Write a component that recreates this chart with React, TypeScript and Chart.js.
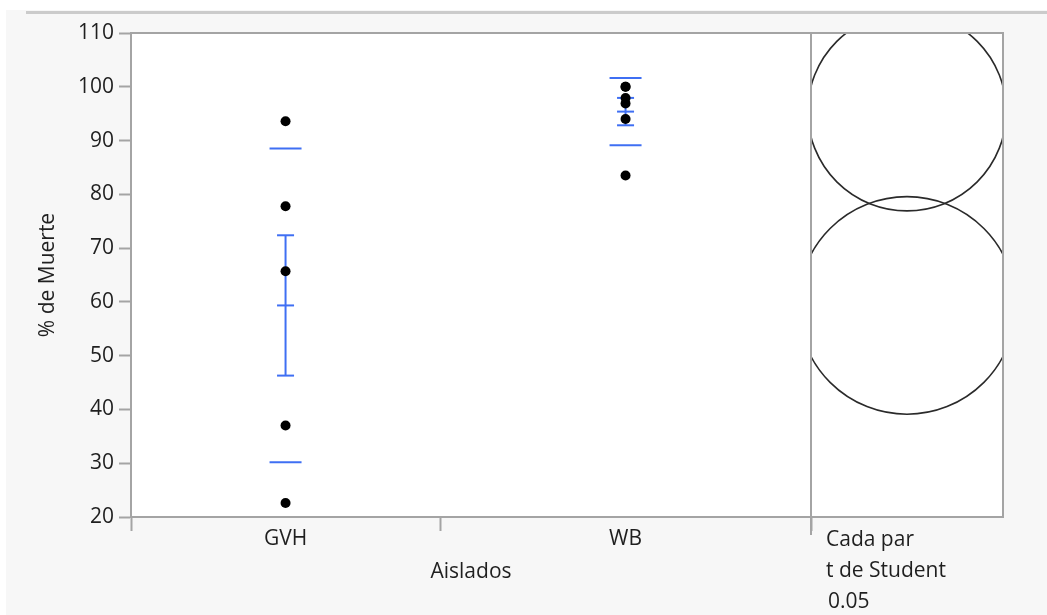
import { useEffect, useRef } from 'react';
import { Chart, registerables } from 'chart.js';

Chart.register(...registerables);

// Raw observations per group (% mortality)
const groupNames = ['GVH', 'WB'];
const gvhValues = [93.6, 77.8, 65.7, 37.0, 22.6];
const wbValues = [100, 100, 97.9, 96.9, 94.0, 83.5];
const groupValues = [gvhValues, wbValues];

// Axis settings
const yMin = 20;
const yMax = 110;
const yStep = 10;
const xAxisTitle = 'Aislados';
const yAxisTitle = '% de Muerte';

// Comparison circles: each pair, Student's t, alpha 0.05
const compareLines = ['Cada par', 't de Student', '0.05'];
const tCritical = 2.262; // t(0.975, 9 df)

const FONT_FAMILY = '"Open Sans", "Noto Sans", sans-serif';
const TEXT = '#1f1f1f';
const AXIS = '#a4a4a4';
const BLUE = '#3f6ff3';
const PANEL_W = 192;

type Stat = { n: number; mean: number; sd: number; se: number; ss: number; start: number; center: number };

function summarize(): Stat[] {
  let start = 0;
  return groupValues.map((vals) => {
    const n = vals.length;
    const mean = vals.reduce((a, b) => a + b, 0) / n;
    const ss = vals.reduce((a, v) => a + (v - mean) * (v - mean), 0);
    const sd = Math.sqrt(ss / (n - 1));
    const s: Stat = { n, mean, sd, se: sd / Math.sqrt(n), ss, start, center: start + n / 2 };
    start += n;
    return s;
  });
}

export default function App() {
  const canvasRef = useRef<HTMLCanvasElement | null>(null);

  useEffect(() => {
    const canvas = canvasRef.current;
    if (!canvas) return;

    const stats = summarize();
    const totalN = stats.reduce((a, s) => a + s.n, 0);
    const pooledSd = Math.sqrt(stats.reduce((a, s) => a + s.ss, 0) / (totalN - stats.length));
    const circleRadius = stats.map((s) => (tCritical * pooledSd) / Math.sqrt(s.n));

    const boundaries = [0, ...stats.map((s) => s.start + s.n)];
    const centers = stats.map((s) => s.center);
    const tickValues = [...boundaries, ...centers].sort((a, b) => a - b);
    const labelFor = (v: number) => {
      const i = centers.indexOf(v);
      return i >= 0 ? groupNames[i] : '';
    };

    const points = stats.flatMap((s, i) => groupValues[i].map((v) => ({ x: s.center, y: v })));

    const onewayPlugin = {
      id: 'oneway',
      beforeDraw(chart: any) {
        const { ctx, width, height, chartArea } = chart;
        ctx.save();
        ctx.fillStyle = '#ffffff';
        ctx.fillRect(0, 0, width, height);
        ctx.fillStyle = '#f7f7f7';
        ctx.fillRect(6, 10, width - 6, height - 10);
        ctx.strokeStyle = '#cbcbcb';
        ctx.lineWidth = 3;
        ctx.beginPath();
        ctx.moveTo(26, 12.5);
        ctx.lineTo(width, 12.5);
        ctx.stroke();
        ctx.fillStyle = '#ffffff';
        ctx.fillRect(chartArea.left, chartArea.top, chartArea.right - chartArea.left + PANEL_W, chartArea.bottom - chartArea.top);
        ctx.restore();
      },
      beforeDatasetsDraw(chart: any) {
        const { ctx } = chart;
        const xs = chart.scales.x;
        const ys = chart.scales.y;
        ctx.save();
        ctx.strokeStyle = BLUE;
        stats.forEach((s) => {
          const cx = xs.getPixelForValue(s.center);
          const hline = (v: number, half: number, w: number) => {
            const py = ys.getPixelForValue(v);
            ctx.lineWidth = w;
            ctx.beginPath();
            ctx.moveTo(cx - half, py);
            ctx.lineTo(cx + half, py);
            ctx.stroke();
          };
          // standard deviation lines
          hline(s.mean + s.sd, 16, 2);
          hline(s.mean - s.sd, 16, 2);
          // mean error bar (± 1 SE)
          ctx.lineWidth = 2;
          ctx.beginPath();
          ctx.moveTo(cx, ys.getPixelForValue(s.mean + s.se));
          ctx.lineTo(cx, ys.getPixelForValue(s.mean - s.se));
          ctx.stroke();
          hline(s.mean + s.se, 8.5, 2);
          hline(s.mean - s.se, 8.5, 2);
          hline(s.mean, 8.5, 2);
        });
        ctx.restore();
      },
      afterDraw(chart: any) {
        const { ctx, chartArea } = chart;
        const ys = chart.scales.y;
        const left = chartArea.left;
        const right = chartArea.right;
        const top = chartArea.top;
        const bottom = chartArea.bottom;
        const panelRight = right + PANEL_W;
        ctx.save();

        // comparison circles, clipped to the panel
        ctx.save();
        ctx.beginPath();
        ctx.rect(right, top, PANEL_W, bottom - top);
        ctx.clip();
        ctx.strokeStyle = '#2a2a2a';
        ctx.lineWidth = 1.6;
        const pcx = right + PANEL_W / 2;
        stats.forEach((s, i) => {
          const py = ys.getPixelForValue(s.mean);
          const pr = ys.getPixelForValue(s.mean - circleRadius[i]) - py;
          ctx.beginPath();
          ctx.arc(pcx, py, pr, 0, Math.PI * 2);
          ctx.stroke();
        });
        ctx.restore();

        // frame
        ctx.strokeStyle = AXIS;
        ctx.lineWidth = 2;
        ctx.beginPath();
        ctx.moveTo(left - 1, top);
        ctx.lineTo(panelRight, top);
        ctx.lineTo(panelRight, bottom);
        ctx.lineTo(right, bottom);
        ctx.moveTo(right, top);
        ctx.lineTo(right, bottom + 18);
        ctx.stroke();

        // panel caption
        ctx.fillStyle = TEXT;
        ctx.font = `21px ${FONT_FAMILY}`;
        ctx.textAlign = 'left';
        ctx.textBaseline = 'middle';
        compareLines.forEach((t, i) => {
          ctx.fillText(t, right + 15 + (i === 2 ? 2 : 0), bottom + 23 + i * 31);
        });
        ctx.restore();
      },
    };

    const font = { family: FONT_FAMILY, size: 21 };

    const chart = new Chart(canvas, {
      type: 'scatter',
      data: {
        datasets: [
          {
            data: points,
            pointRadius: 5,
            pointHoverRadius: 5,
            pointBackgroundColor: '#000000',
            pointBorderWidth: 0,
            showLine: false,
          },
        ],
      },
      plugins: [onewayPlugin],
      options: {
        responsive: false,
        animation: false,
        events: [],
        layout: { padding: { left: 0, top: 33, right: 236, bottom: 0 } },
        plugins: { legend: { display: false }, tooltip: { enabled: false } },
        scales: {
          x: {
            type: 'linear',
            min: 0,
            max: totalN,
            afterBuildTicks: (scale: any) => {
              scale.ticks = tickValues.map((v) => ({ value: v }));
            },
            afterFit: (scale: any) => {
              scale.height = 98;
            },
            ticks: {
              autoSkip: false,
              maxRotation: 0,
              padding: -5,
              color: TEXT,
              font,
              callback: (v: any) => labelFor(Number(v)),
            },
            grid: {
              drawOnChartArea: false,
              drawTicks: true,
              tickLength: 14,
              tickWidth: 2,
              tickColor: (ctx: any) => (ctx.tick && centers.includes(ctx.tick.value) ? 'rgba(0,0,0,0)' : AXIS),
            },
            border: { color: AXIS, width: 2 },
            title: { display: true, text: xAxisTitle, color: TEXT, font, padding: { top: 0, bottom: 30 } },
          },
          y: {
            min: yMin,
            max: yMax,
            afterFit: (scale: any) => {
              scale.width = 131;
            },
            ticks: { stepSize: yStep, color: TEXT, font, padding: 5 },
            grid: { drawOnChartArea: false, drawTicks: true, tickLength: 12, tickWidth: 2, tickColor: AXIS },
            border: { color: AXIS, width: 2 },
            title: { display: true, text: yAxisTitle, color: TEXT, font, padding: { top: 35, bottom: 0 } },
          },
        },
      },
    } as any);

    return () => chart.destroy();
  }, []);

  return (
    <div style={{ position: 'absolute', left: 0, top: 0, width: 1047, height: 615 }}>
      <canvas ref={canvasRef} width={1047} height={615} style={{ display: 'block' }} />
    </div>
  );
}
